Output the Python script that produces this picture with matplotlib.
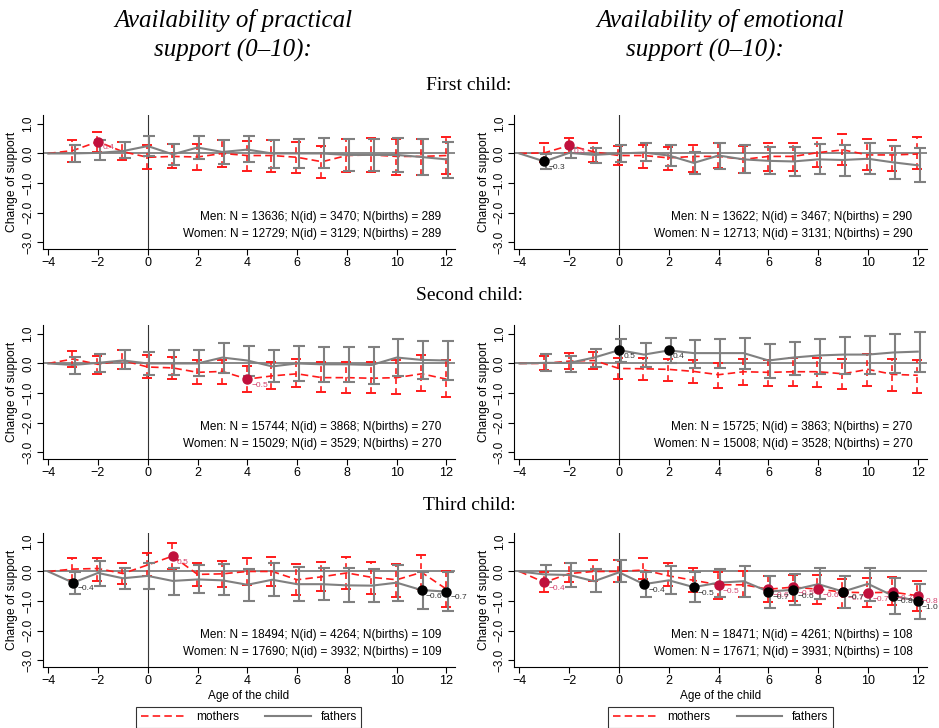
import numpy as np
import matplotlib
matplotlib.use("Agg")
import matplotlib.pyplot as plt
from matplotlib.lines import Line2D

# ---------------- data ----------------
ages = [-3, -2, -1, 0, 1, 2, 3, 4, 5, 6, 7, 8, 9, 10, 11, 12]
ref_age = -4

# Panel 1: practical support, first child
p1_m_mean = [0.10, 0.40, 0.06, -0.13, -0.10, -0.12, 0.00, -0.07, -0.07, -0.13, -0.28, -0.07, -0.05, -0.10, -0.10, -0.07]
p1_m_hi = [0.45, 0.71, 0.40, 0.27, 0.32, 0.32, 0.45, 0.42, 0.45, 0.40, 0.25, 0.50, 0.53, 0.48, 0.49, 0.56]
p1_m_lo = [-0.28, 0.06, -0.22, -0.53, -0.49, -0.56, -0.45, -0.58, -0.62, -0.66, -0.83, -0.62, -0.62, -0.72, -0.72, -0.68]
p1_f_mean = [0.00, 0.02, 0.08, 0.25, -0.03, 0.20, 0.05, 0.13, 0.00, 0.00, 0.00, -0.05, -0.05, -0.05, -0.12, -0.20]
p1_f_hi = [0.30, 0.45, 0.40, 0.60, 0.32, 0.60, 0.47, 0.60, 0.45, 0.50, 0.52, 0.50, 0.50, 0.53, 0.49, 0.40]
p1_f_lo = [-0.28, -0.22, -0.17, -0.10, -0.40, -0.20, -0.37, -0.30, -0.50, -0.50, -0.50, -0.60, -0.60, -0.62, -0.72, -0.82]

# Panel 2: emotional support, first child
p2_m_mean = [0.02, 0.27, 0.05, -0.07, -0.07, -0.15, -0.10, -0.10, -0.20, -0.10, -0.10, 0.03, 0.12, -0.05, -0.05, -0.02]
p2_m_hi = [0.34, 0.53, 0.34, 0.25, 0.28, 0.22, 0.30, 0.36, 0.26, 0.37, 0.37, 0.53, 0.65, 0.48, 0.47, 0.56]
p2_m_lo = [-0.30, 0.02, -0.28, -0.40, -0.48, -0.56, -0.62, -0.50, -0.66, -0.58, -0.60, -0.45, -0.40, -0.56, -0.60, -0.53]
p2_f_mean = [-0.27, 0.02, -0.05, 0.00, 0.03, -0.07, -0.32, -0.07, -0.20, -0.25, -0.27, -0.20, -0.22, -0.18, -0.30, -0.40]
p2_f_hi = [-0.02, 0.20, 0.20, 0.28, 0.34, 0.28, 0.05, 0.34, 0.28, 0.22, 0.22, 0.32, 0.30, 0.36, 0.25, 0.17]
p2_f_lo = [-0.54, -0.15, -0.33, -0.28, -0.27, -0.42, -0.70, -0.53, -0.66, -0.71, -0.77, -0.70, -0.75, -0.71, -0.87, -0.96]

# Panel 3: practical support, second child
p3_m_mean = [0.15, -0.03, 0.10, -0.12, -0.15, -0.30, -0.27, -0.53, -0.42, -0.35, -0.48, -0.48, -0.50, -0.48, -0.35, -0.53]
p3_m_hi = [0.42, 0.24, 0.44, 0.28, 0.22, 0.11, 0.11, -0.09, 0.06, 0.16, 0.06, 0.06, 0.06, 0.10, 0.27, 0.10]
p3_m_lo = [-0.12, -0.34, -0.20, -0.48, -0.53, -0.68, -0.68, -0.96, -0.87, -0.81, -0.98, -1.00, -1.01, -1.03, -0.92, -1.12]
p3_f_mean = [-0.05, 0.02, 0.10, 0.00, 0.00, 0.00, 0.20, 0.10, -0.10, 0.00, -0.03, -0.03, -0.05, 0.20, 0.12, 0.10]
p3_f_hi = [0.22, 0.33, 0.44, 0.39, 0.44, 0.47, 0.69, 0.60, 0.44, 0.60, 0.54, 0.56, 0.56, 0.82, 0.77, 0.77]
p3_f_lo = [-0.34, -0.28, -0.20, -0.39, -0.39, -0.42, -0.31, -0.42, -0.64, -0.59, -0.64, -0.64, -0.68, -0.42, -0.53, -0.57]

# Panel 4: emotional support, second child
p4_m_mean = [0.00, 0.08, 0.10, -0.17, -0.18, -0.20, -0.27, -0.38, -0.28, -0.30, -0.28, -0.28, -0.35, -0.20, -0.37, -0.40]
p4_m_hi = [0.25, 0.36, 0.40, 0.19, 0.17, 0.15, 0.11, 0.02, 0.14, 0.11, 0.19, 0.20, 0.15, 0.31, 0.15, 0.11]
p4_m_lo = [-0.23, -0.20, -0.19, -0.53, -0.55, -0.59, -0.66, -0.82, -0.72, -0.76, -0.76, -0.80, -0.88, -0.76, -0.94, -1.00]
p4_f_mean = [0.02, 0.02, 0.20, 0.45, 0.30, 0.44, 0.35, 0.35, 0.35, 0.10, 0.20, 0.27, 0.30, 0.30, 0.37, 0.40]
p4_f_hi = [0.32, 0.26, 0.48, 0.82, 0.70, 0.85, 0.80, 0.83, 0.85, 0.65, 0.74, 0.82, 0.91, 0.93, 1.00, 1.05]
p4_f_lo = [-0.26, -0.28, -0.11, 0.06, -0.11, 0.03, -0.14, -0.17, -0.20, -0.49, -0.40, -0.36, -0.34, -0.34, -0.31, -0.28]

# Panel 5: practical support, third child
p5_m_mean = [0.08, 0.10, -0.07, 0.22, 0.52, -0.10, -0.08, 0.00, 0.00, -0.28, -0.18, -0.05, -0.20, -0.28, -0.03, -0.60]
p5_m_hi = [0.45, 0.44, 0.30, 0.62, 0.96, 0.30, 0.34, 0.44, 0.50, 0.25, 0.33, 0.50, 0.33, 0.25, 0.55, 0.02]
p5_m_lo = [-0.30, -0.31, -0.43, -0.15, 0.08, -0.50, -0.54, -0.45, -0.48, -0.80, -0.67, -0.60, -0.76, -0.85, -0.60, -1.21]
p5_f_mean = [-0.38, -0.05, -0.23, -0.15, -0.32, -0.27, -0.30, -0.45, -0.28, -0.43, -0.43, -0.47, -0.48, -0.38, -0.63, -0.68]
p5_f_hi = [-0.02, 0.36, 0.13, 0.28, 0.13, 0.21, 0.25, 0.08, 0.27, 0.16, 0.13, 0.10, 0.08, 0.21, -0.02, -0.03]
p5_f_lo = [-0.76, -0.48, -0.60, -0.60, -0.79, -0.74, -0.80, -0.99, -0.82, -0.99, -0.96, -1.04, -1.04, -0.99, -1.27, -1.33]

# Panel 6: emotional support, third child
p6_m_mean = [-0.37, -0.07, 0.00, 0.00, 0.05, -0.15, -0.30, -0.45, -0.45, -0.60, -0.53, -0.60, -0.70, -0.72, -0.70, -0.82]
p6_m_hi = [-0.03, 0.27, 0.38, 0.38, 0.44, 0.27, 0.10, -0.01, 0.02, -0.15, -0.12, -0.12, -0.26, -0.22, -0.20, -0.31]
p6_m_lo = [-0.69, -0.37, -0.31, -0.35, -0.26, -0.48, -0.70, -0.93, -0.88, -1.04, -0.99, -1.10, -1.24, -1.21, -1.15, -1.33]
p6_f_mean = [-0.10, -0.12, -0.33, -0.03, -0.43, -0.30, -0.53, -0.38, -0.33, -0.68, -0.62, -0.43, -0.68, -0.42, -0.82, -1.00]
p6_f_hi = [0.22, 0.27, 0.08, 0.39, -0.02, 0.17, -0.03, 0.08, 0.19, -0.15, -0.09, 0.10, -0.15, 0.13, -0.22, -0.43]
p6_f_lo = [-0.37, -0.54, -0.71, -0.37, -0.88, -0.76, -1.02, -0.88, -0.88, -1.24, -1.13, -0.93, -1.24, -0.99, -1.44, -1.61]

notes = [
    ("Men: N = 13636; N(id) = 3470; N(births) = 289", "Women: N = 12729; N(id) = 3129; N(births) = 289"),
    ("Men: N = 13622; N(id) = 3467; N(births) = 290", "Women: N = 12713; N(id) = 3131; N(births) = 290"),
    ("Men: N = 15744; N(id) = 3868; N(births) = 270", "Women: N = 15029; N(id) = 3529; N(births) = 270"),
    ("Men: N = 15725; N(id) = 3863; N(births) = 270", "Women: N = 15008; N(id) = 3528; N(births) = 270"),
    ("Men: N = 18494; N(id) = 4264; N(births) = 109", "Women: N = 17690; N(id) = 3932; N(births) = 109"),
    ("Men: N = 18471; N(id) = 4261; N(births) = 108", "Women: N = 17671; N(id) = 3931; N(births) = 108"),
]

col_titles = [("Availability of practical", "support (0\u201310):"),
              ("Availability of emotional", "support (0\u201310):")]
row_titles = ["First child:", "Second child:", "Third child:"]
xticks = [-4, -2, 0, 2, 4, 6, 8, 10, 12]
yticks = [1, 0, -1, -2, -3]
legend_labels = ["mothers", "fathers"]

panels = [
    (p1_m_mean, p1_m_lo, p1_m_hi, p1_f_mean, p1_f_lo, p1_f_hi),
    (p2_m_mean, p2_m_lo, p2_m_hi, p2_f_mean, p2_f_lo, p2_f_hi),
    (p3_m_mean, p3_m_lo, p3_m_hi, p3_f_mean, p3_f_lo, p3_f_hi),
    (p4_m_mean, p4_m_lo, p4_m_hi, p4_f_mean, p4_f_lo, p4_f_hi),
    (p5_m_mean, p5_m_lo, p5_m_hi, p5_f_mean, p5_f_lo, p5_f_hi),
    (p6_m_mean, p6_m_lo, p6_m_hi, p6_f_mean, p6_f_lo, p6_f_hi),
]

# ---------------- style ----------------
SANS = ["Liberation Sans", "DejaVu Sans"]
SERIF = ["Liberation Serif", "DejaVu Serif"]
plt.rcParams["font.family"] = SANS
RED = "#ff1a1a"
GRAY = "#808080"
MRED = "#c0103c"
MLAB = "#d4426e"

W, H = 939, 728
fig = plt.figure(figsize=(W / 100, H / 100), dpi=100)

col_left = [42.7, 514.0]
col_width = 412.5
row_top = [115.0, 325.0, 533.0]
row_height = 134.0


def fmt(v):
    return f"{v:.1f}".replace("-", "\u2212")


def draw_series(ax, mean, lo, hi, color, dashed, dx, mcolor, lcolor, lw):
    x = np.array(ages, dtype=float)
    mean = np.array(mean)
    lo = np.array(lo)
    hi = np.array(hi)
    xl = np.concatenate([[ref_age], x])
    yl = np.concatenate([[0.0], mean])
    ls = (0, (4.5, 2.5)) if dashed else "-"
    ax.plot(xl, yl, color=color, lw=lw, ls=ls, zorder=3)
    eb = ax.errorbar(x + dx, mean, yerr=[mean - lo, hi - mean], fmt="none",
                     ecolor=color, elinewidth=lw, capsize=3.6 if dashed else 4.2,
                     capthick=lw + 0.2 if dashed else lw, zorder=3)
    if dashed:
        eb[2][0].set_linestyle((0, (3.5, 2.5)))
    sig = (lo > 0) | (hi < 0)
    ax.plot(x[sig], mean[sig], "o", color=mcolor, ms=6.5, mec=mcolor, zorder=5)
    for xi, yi in zip(x[sig], mean[sig]):
        ax.annotate(fmt(yi), (xi, yi), xytext=(3, -4.5), textcoords="offset points",
                    fontsize=6, color=lcolor, ha="left", va="center", zorder=6)


for i, (m_mean, m_lo, m_hi, f_mean, f_lo, f_hi) in enumerate(panels):
    r, c = divmod(i, 2)
    left = col_left[c] / W
    bottom = 1 - (row_top[r] + row_height) / H
    ax = fig.add_axes([left, bottom, col_width / W, row_height / H])
    ax.set_xlim(-4.22, 12.35)
    ax.set_ylim(-3.23, 1.3)
    ax.axhline(0, color=GRAY, lw=1.3, zorder=1)
    ax.axvline(0, color="#333333", lw=0.8, zorder=1)
    draw_series(ax, m_mean, m_lo, m_hi, RED, True, -0.03, MRED, MLAB, 1.2)
    draw_series(ax, f_mean, f_lo, f_hi, GRAY, False, 0.07, "black", "#333333", 1.5)
    for s in ["top", "right"]:
        ax.spines[s].set_visible(False)
    for s in ["left", "bottom"]:
        ax.spines[s].set_linewidth(0.8)
    ax.set_xticks(xticks)
    ax.set_xticklabels([str(t).replace("-", "\u2212") for t in xticks], fontsize=9)
    ax.set_yticks(yticks)
    ax.set_yticklabels([fmt(t) for t in yticks], fontsize=8.5, rotation=90, va="center")
    ax.tick_params(length=4, width=0.8, direction="out", pad=2)
    ax.set_ylabel("Change of support", fontsize=8.7, labelpad=3)
    ax.text(0.966, 0.239, notes[i][0], transform=ax.transAxes, ha="right",
            va="center", fontsize=8.5)
    ax.text(0.966, 0.112, notes[i][1], transform=ax.transAxes, ha="right",
            va="center", fontsize=8.5)
    if r == 2:
        ax.set_xlabel("Age of the child", fontsize=8.5, labelpad=2)
        handles = [Line2D([], [], color=RED, lw=1.2, ls=(0, (4.5, 2.5))),
                   Line2D([], [], color=GRAY, lw=1.5)]
        leg = ax.legend(handles, legend_labels, loc="upper center",
                        bbox_to_anchor=(0.5, -0.296), ncol=2, frameon=True,
                        fancybox=False, edgecolor="black", fontsize=8.6,
                        handlelength=3.8, columnspacing=2.2, borderaxespad=0,
                        borderpad=0.4)
        leg.get_frame().set_linewidth(0.8)

# column titles
title_x = [(233, 233), (720, 705)]
for c in range(2):
    fig.text(title_x[c][0] / W, 1 - 20 / H, col_titles[c][0], ha="center", va="center",
             fontsize=18, style="italic", family=SERIF)
    fig.text(title_x[c][1] / W, 1 - 50 / H, col_titles[c][1], ha="center", va="center",
             fontsize=18, style="italic", family=SERIF)

row_y = [85, 295, 505]
for r in range(3):
    fig.text(469 / W, 1 - row_y[r] / H, row_titles[r], ha="center", va="center",
             fontsize=14, family=SERIF)

fig.savefig("out.png", dpi=100)
